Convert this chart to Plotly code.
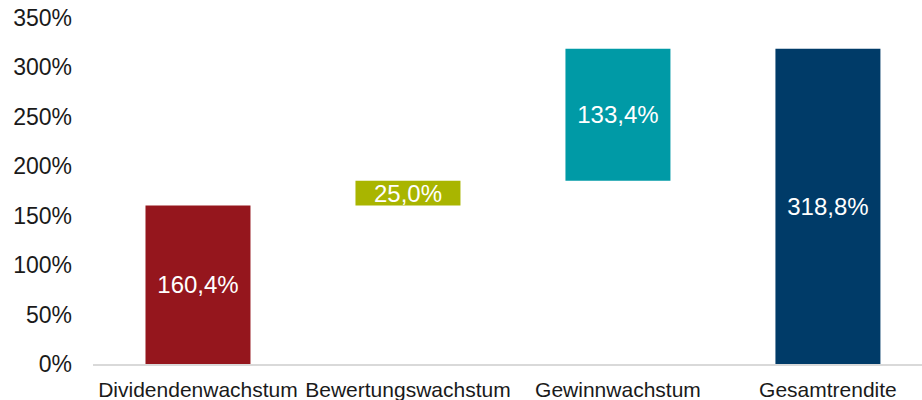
import plotly.graph_objects as go

categories = ["Dividendenwachstum", "Bewertungswachstum", "Gewinnwachstum", "Gesamtrendite"]
values = [160.4, 25.0, 133.4, 318.8]
bases = [0, 160.4, 185.4, 0]
labels = ["160,4%", "25,0%", "133,4%", "318,8%"]
colors = ["#95161d", "#a9b500", "#009aa6", "#003b68"]

tick_vals = [0, 50, 100, 150, 200, 250, 300, 350]
tick_text = ["0%", "50%", "100%", "150%", "200%", "250%", "300%", "350%"]

FONT = "Liberation Sans, Arial, sans-serif"

fig = go.Figure()
fig.add_trace(
    go.Bar(
        x=categories,
        y=values,
        base=bases,
        marker=dict(color=colors, line=dict(width=0)),
        text=labels,
        textposition="inside",
        insidetextanchor="middle",
        textfont=dict(color="white", size=24, family=FONT),
        textangle=0,
        constraintext="none",
    )
)

fig.update_layout(
    width=922,
    height=400,
    paper_bgcolor="white",
    plot_bgcolor="white",
    showlegend=False,
    bargap=0.5,
    margin=dict(l=93, r=0, t=18, b=36, autoexpand=False),
    font=dict(family=FONT, size=21, color="#1a1a1a"),
    uniformtext=dict(minsize=24, mode="show"),
)
# last category runs past the right edge in the original
fig.update_xaxes(
    range=[-0.5, 3.448],
    showline=True,
    linecolor="#d9d9d9",
    linewidth=2,
    showgrid=False,
    ticks="",
    tickfont=dict(size=21),
    ticklabelstandoff=6,
    automargin=False,
)
fig.update_yaxes(
    range=[0, 350],
    tickvals=tick_vals,
    ticktext=tick_text,
    showgrid=False,
    zeroline=False,
    showline=False,
    ticks="",
    tickfont=dict(size=23),
    ticklabelstandoff=20,
    automargin=False,
)

fig.write_html(
    "out.html",
    config={"displayModeBar": False},
    post_script="document.body.style.margin='0';document.body.style.overflow='hidden';",
)
